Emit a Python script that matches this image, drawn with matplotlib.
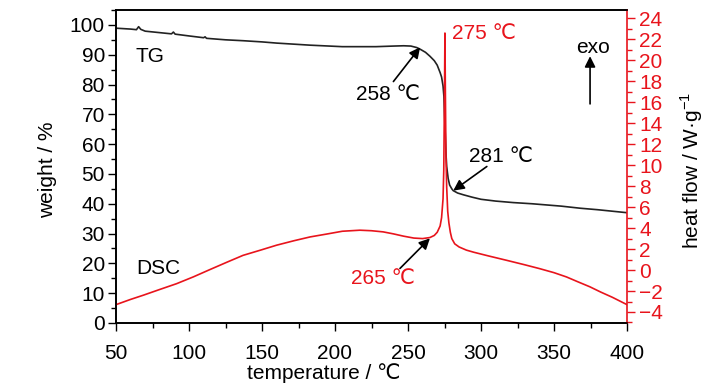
import numpy as np
import matplotlib.pyplot as plt
from matplotlib.ticker import MultipleLocator

plt.rcParams['font.family'] = ['Liberation Sans', 'DejaVu Sans']
plt.rcParams['mathtext.fontset'] = 'custom'
plt.rcParams['mathtext.rm'] = 'Liberation Sans'

# TG curve (weight %)
tg_temp = [50, 60, 64, 65.5, 67, 70, 80, 88, 89.3, 90.5, 100, 110, 111, 112, 125, 137,
           150, 160, 183, 205, 228, 240, 247, 252, 256, 258.5, 262, 265, 268, 270, 272,
           273, 274, 274.6, 275, 275.5, 276, 276.5, 277.5, 278.5, 280, 281, 284, 288,
           294, 300, 310, 322, 335, 345, 355, 368, 380, 390, 400]
tg_weight = [98.9, 98.6, 98.4, 99.4, 98.5, 97.9, 97.4, 97.0, 97.6, 96.9, 96.3, 95.7, 96.0,
             95.5, 95.0, 94.7, 94.3, 93.9, 93.2, 92.7, 92.7, 92.9, 93.0, 92.9, 92.4, 91.8,
             90.8, 89.5, 88.0, 86.5, 84.0, 82.5, 79.5, 76.0, 70.0, 63.7, 57.0, 52.5, 48.5,
             46.3, 45.0, 44.4, 43.6, 43.0, 42.2, 41.5, 40.9, 40.4, 40.0, 39.6, 39.2, 38.5,
             38.0, 37.5, 37.0]

# DSC curve (heat flow W/g)
dsc_temp = [50, 60, 68.7, 80, 91.5, 103, 114.4, 126, 137, 149, 160, 172, 183, 195, 205,
            217, 225, 233, 240, 247, 254, 260, 265, 268, 270, 272, 273, 274, 274.5, 275,
            275.3, 275.6, 276, 276.5, 277.2, 278, 279, 280, 282, 285, 290, 295, 305,
            317.5, 330, 340, 350, 358.6, 366, 374.6, 382, 390, 400]
dsc_flow = [-3.3, -2.8, -2.4, -1.85, -1.3, -0.65, 0.05, 0.75, 1.4, 1.9, 2.37, 2.8, 3.16,
            3.45, 3.7, 3.8, 3.75, 3.64, 3.45, 3.23, 3.05, 3.0, 3.1, 3.3, 3.6, 4.2, 5.0,
            6.8, 9.5, 17.0, 22.6, 17.0, 11.0, 7.9, 5.6, 4.5, 3.6, 3.0, 2.5, 2.2, 1.9, 1.7,
            1.35, 0.93, 0.5, 0.14, -0.25, -0.66, -1.1, -1.6, -2.1, -2.6, -3.3]

red = '#e8141c'
fs = 15

fig = plt.figure(figsize=(7.28, 3.9), dpi=100)
ax = fig.add_axes([116 / 728, 1 - 323 / 390, 511 / 728, 313 / 390])
ax2 = ax.twinx()

ax.plot(tg_temp, tg_weight, color='#222222', lw=1.2)
ax2.plot(dsc_temp, dsc_flow, color=red, lw=1.2)

ax.set_xlim(50, 400)
ax.set_ylim(0, 105)
ax2.set_ylim(-5.05, 24.8)

ax.xaxis.set_major_locator(MultipleLocator(50))
ax.xaxis.set_minor_locator(MultipleLocator(25))
ax.yaxis.set_major_locator(MultipleLocator(10))
ax.yaxis.set_minor_locator(MultipleLocator(5))
ax2.yaxis.set_major_locator(MultipleLocator(2))
ax2.yaxis.set_minor_locator(MultipleLocator(1))

ax.tick_params(axis='both', which='major', direction='out', length=6, width=1, labelsize=fs)
ax.tick_params(axis='both', which='minor', direction='out', length=3.5, width=1)
ax.tick_params(axis='x', pad=9)
ax.tick_params(axis='y', pad=2)
ax.tick_params(top=False, right=False)
ax2.tick_params(axis='y', which='major', direction='out', length=6, width=1,
                labelsize=fs, colors=red, pad=3)
ax2.tick_params(axis='y', which='minor', direction='out', length=3.5, width=1, colors=red)

for s in ['left', 'bottom', 'top']:
    ax.spines[s].set_linewidth(1.2)
    ax2.spines[s].set_linewidth(1.2)
ax2.spines['right'].set_color(red)
ax2.spines['right'].set_linewidth(1.2)
ax.spines['right'].set_visible(False)

fig.text(48 / 728, 1 - 170 / 390, 'weight / %', rotation=90, ha='center', va='center', fontsize=fs)
fig.text(692 / 728, 1 - 170 / 390, 'heat flow / W·g$^{-1}$', rotation=90, ha='center',
         va='center', fontsize=fs)
fig.text(324 / 728, 1 - 373 / 390, 'temperature / ℃', ha='center', va='center', fontsize=fs)

ax.text(73.5, 89.3, 'TG', ha='center', va='center', fontsize=fs)
ax.text(79, 18.3, 'DSC', ha='center', va='center', fontsize=fs)
ax.text(236, 76.5, '258 ℃', ha='center', va='center', fontsize=fs)
ax.text(280, 97, '275 ℃', ha='left', va='center', fontsize=fs, color=red)
ax.text(314, 56, '281 ℃', ha='center', va='center', fontsize=fs)
ax.text(233, 15, '265 ℃', ha='center', va='center', fontsize=fs, color=red)
ax.text(376.4, 92.3, 'exo', ha='center', va='center', fontsize=fs)

arrow = dict(arrowstyle='-|>', color='k', lw=1.2, mutation_scale=16, shrinkA=0, shrinkB=0)
ax.annotate('', xy=(258.3, 92.5), xytext=(240, 81), arrowprops=arrow)
ax.annotate('', xy=(281, 44.4), xytext=(304, 52.5), arrowprops=arrow)
ax.annotate('', xy=(265, 28.4), xytext=(244.5, 18.3), arrowprops=arrow)
ax.annotate('', xy=(374.7, 89.5), xytext=(374.7, 73.5), arrowprops=arrow)

fig.savefig('out.png', dpi=100)
